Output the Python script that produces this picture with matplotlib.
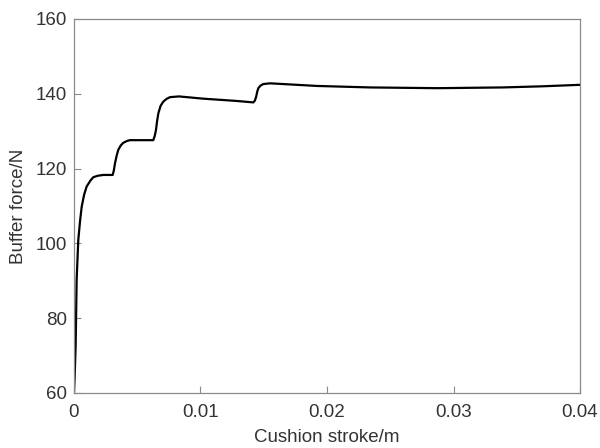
"""Buffer force vs cushion stroke, MATLAB-like styling."""

import matplotlib

matplotlib.use("Agg")
import matplotlib.pyplot as plt

stroke = [
    0.0, 0.00005, 0.00013, 0.00021, 0.00034, 0.00048, 0.00061, 0.0008, 0.001,
    0.0013, 0.00153, 0.0019, 0.00232, 0.0027, 0.00306, 0.00315, 0.00324,
    0.00337, 0.0035, 0.0037, 0.0039, 0.0042, 0.00443, 0.0053, 0.00627,
    0.00638, 0.00648, 0.00657, 0.00667, 0.00685, 0.00706, 0.0073, 0.00759,
    0.0083, 0.0102, 0.0128, 0.01418, 0.0143, 0.0144, 0.01448, 0.01457,
    0.01475, 0.01496, 0.0155, 0.0192, 0.0234, 0.0287, 0.0339, 0.0370, 0.040,
]
force = [
    60, 64, 72.4, 90.2, 100.9, 106, 109.8, 113, 115.2,
    116.8, 117.7, 118.1, 118.3, 118.3, 118.3, 119.5, 121.4,
    123.4, 125.0, 126.2, 126.9, 127.4, 127.6, 127.6, 127.6,
    128.7, 130.3, 132.7, 134.8, 136.8, 137.9, 138.6, 139.1,
    139.3, 138.7, 138.1, 137.7, 138.2, 139.2, 140.5, 141.5,
    142.2, 142.6, 142.8, 142.1, 141.7, 141.5, 141.7, 142.0, 142.4,
]

x_ticks = [0, 0.01, 0.02, 0.03, 0.04]
x_tick_labels = ["0", "0.01", "0.02", "0.03", "0.04"]
y_ticks = [60, 80, 100, 120, 140, 160]

plt.rcParams["font.family"] = ["Liberation Sans", "DejaVu Sans"]

fig = plt.figure(figsize=(6, 4.48), dpi=100)
ax = fig.add_axes([0.1233, 0.1228, 0.8434, 0.8348])

ax.plot(stroke, force, color="black", linewidth=1.6)

ax.set_xlim(0, 0.04)
ax.set_ylim(60, 160)
ax.set_xticks(x_ticks)
ax.set_xticklabels(x_tick_labels)
ax.set_yticks(y_ticks)

axis_grey = "#8a8a8a"
text_grey = "#333333"
for spine in ax.spines.values():
    spine.set_color(axis_grey)
    spine.set_linewidth(0.9)
ax.tick_params(direction="in", length=5, width=0.8, color=axis_grey,
               labelsize=13.5, labelcolor=text_grey, top=False, right=False)
ax.tick_params(axis="x", pad=8)
ax.tick_params(axis="y", pad=5)

ax.set_xlabel("Cushion stroke/m", fontsize=13.5, color=text_grey, labelpad=6)
ax.set_ylabel("Buffer force/N", fontsize=13.5, color=text_grey, labelpad=6)

fig.savefig("out.png", dpi=100)
